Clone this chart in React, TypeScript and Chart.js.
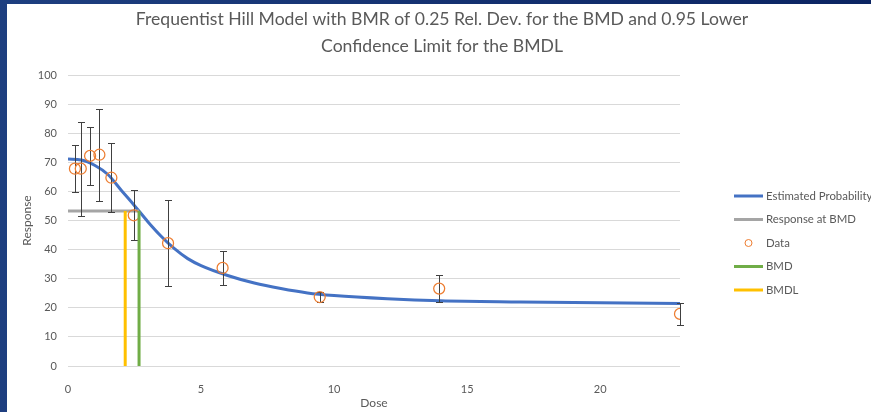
import React, { useEffect, useRef } from "react";
import { Chart, registerables } from "chart.js";

Chart.register(...registerables);

// ---- chart text ----
const titleLines = [
  "Frequentist Hill Model with BMR of 0.25 Rel. Dev. for the BMD and 0.95 Lower",
  "Confidence Limit for the BMDL",
];
const xAxisTitle = "Dose";
const yAxisTitle = "Response";
const seriesNames = ["Estimated Probability", "Response at BMD", "Data", "BMD", "BMDL"];

// ---- observed data (dose groups, mean response, error half-width) ----
const doses = [0.26, 0.48, 0.83, 1.18, 1.63, 2.47, 3.76, 5.81, 9.46, 13.95, 23];
const meanResponse = [67.8, 67.8, 72.2, 72.6, 64.7, 51.8, 42.2, 33.7, 23.7, 26.6, 17.9];
const errorHalfWidth = [8.0, 16.2, 10.0, 15.8, 11.9, 8.6, 14.7, 5.7, 1.6, 4.7, 3.7];

// ---- fitted Hill curve ----
const curveDoses = [0, 0.5, 1, 1.5, 2, 2.5, 3, 3.5, 4, 4.5, 5, 6, 7, 8, 9, 10, 12, 14, 17, 20, 23];
const curveResponse = [71.1, 70.8, 69.0, 65.8, 60.4, 55.1, 49.6, 44.6, 40.3, 36.9, 34.5, 31.1, 28.5, 26.6, 25.1, 24.2, 23.1, 22.4, 22.0, 21.7, 21.5];

// ---- benchmark values ----
const bmd = 2.67;
const bmdl = 2.15;
const bmdResponse = 53.3;

// ---- axes ----
const xMax = 23;
const xTickValues = [0, 5, 10, 15, 20];
const yTickValues = [0, 10, 20, 30, 40, 50, 60, 70, 80, 90, 100];

const FONT = "Lato, 'Open Sans', sans-serif";
const TEXT = "#595959";
const COLORS = {
  curve: "#4472C4",
  bmdLevel: "#A5A5A5",
  data: "#ED7D31",
  bmd: "#70AD47",
  bmdl: "#FFC000",
  errorBar: "#404040",
  grid: "#D9D9D9",
};

// error bars for the Data series, drawn just before its markers
const errorBarsPlugin = {
  id: "errorBars",
  beforeDatasetDraw(chart: any, args: any) {
    if (args.index !== 2) return;
    const { ctx, scales } = chart;
    const x = scales.x;
    const y = scales.y;
    ctx.save();
    ctx.strokeStyle = COLORS.errorBar;
    ctx.lineWidth = 1;
    doses.forEach((d, i) => {
      const px = Math.round(x.getPixelForValue(d)) + 0.5;
      const top = Math.round(y.getPixelForValue(meanResponse[i] + errorHalfWidth[i])) + 0.5;
      const bot = Math.round(y.getPixelForValue(meanResponse[i] - errorHalfWidth[i])) + 0.5;
      ctx.beginPath();
      ctx.moveTo(px, top);
      ctx.lineTo(px, bot);
      ctx.moveTo(px - 3.5, top);
      ctx.lineTo(px + 3.5, top);
      ctx.moveTo(px - 3.5, bot);
      ctx.lineTo(px + 3.5, bot);
      ctx.stroke();
    });
    ctx.restore();
  },
};

// legend listed to the right of the plot
const sideLegendPlugin = {
  id: "sideLegend",
  afterDraw(chart: any) {
    const { ctx, chartArea } = chart;
    const x0 = chartArea.right + 54;
    const y0 = chartArea.top + 121;
    const step = 23.5;
    ctx.save();
    ctx.font = `11.4px ${FONT}`;
    ctx.textBaseline = "middle";
    ctx.textAlign = "left";
    chart.data.datasets.forEach((ds: any, i: number) => {
      const cy = y0 + i * step;
      if (ds.showLine === false) {
        ctx.beginPath();
        ctx.arc(x0 + 14.5, cy, 3.5, 0, Math.PI * 2);
        ctx.strokeStyle = ds.borderColor;
        ctx.lineWidth = 1;
        ctx.stroke();
      } else {
        ctx.beginPath();
        ctx.moveTo(x0, cy);
        ctx.lineTo(x0 + 29, cy);
        ctx.strokeStyle = ds.borderColor;
        ctx.lineWidth = 3;
        ctx.stroke();
      }
      ctx.fillStyle = TEXT;
      ctx.fillText(ds.label, x0 + 32, cy);
    });
    ctx.restore();
  },
};

export default function App() {
  const canvasRef = useRef<HTMLCanvasElement | null>(null);

  useEffect(() => {
    const canvas = canvasRef.current;
    if (!canvas) return;

    const chart = new Chart(canvas, {
      type: "line",
      data: {
        datasets: [
          {
            label: seriesNames[0],
            data: curveDoses.map((d, i) => ({ x: d, y: curveResponse[i] })),
            borderColor: COLORS.curve,
            borderWidth: 3,
            pointRadius: 0,
            cubicInterpolationMode: "monotone",
            order: 5,
          },
          {
            label: seriesNames[1],
            data: [
              { x: 0, y: bmdResponse },
              { x: bmd, y: bmdResponse },
            ],
            borderColor: COLORS.bmdLevel,
            borderWidth: 3,
            pointRadius: 0,
            order: 4,
          },
          {
            label: seriesNames[2],
            data: doses.map((d, i) => ({ x: d, y: meanResponse[i] })),
            showLine: false,
            borderColor: COLORS.data,
            backgroundColor: "rgba(0,0,0,0)",
            pointRadius: 5.5,
            pointBorderWidth: 1.25,
            order: 3,
          },
          {
            label: seriesNames[3],
            data: [
              { x: bmd, y: 0 },
              { x: bmd, y: bmdResponse },
            ],
            borderColor: COLORS.bmd,
            borderWidth: 3,
            pointRadius: 0,
            order: 2,
          },
          {
            label: seriesNames[4],
            data: [
              { x: bmdl, y: 0 },
              { x: bmdl, y: bmdResponse },
            ],
            borderColor: COLORS.bmdl,
            borderWidth: 3,
            pointRadius: 0,
            order: 1,
          },
        ],
      },
      options: {
        responsive: false,
        animation: false,
        events: [],
        layout: { padding: 0 },
        plugins: {
          legend: { display: false },
          tooltip: { enabled: false },
          title: {
            display: true,
            text: titleLines,
            color: TEXT,
            font: { family: FONT, size: 17.6, weight: "normal", lineHeight: 27 / 17.6 },
            padding: { top: 1.5, bottom: 15.5 },
          },
        },
        scales: {
          x: {
            type: "linear",
            min: 0,
            max: xMax,
            grid: { display: false },
            border: { display: false },
            afterBuildTicks: (s: any) => {
              s.ticks = xTickValues.map((v) => ({ value: v }));
            },
            afterFit: (s: any) => {
              s.height = 46;
            },
            ticks: {
              color: TEXT,
              font: { family: FONT, size: 11 },
              padding: 9,
              maxRotation: 0,
              autoSkip: false,
            },
            title: {
              display: true,
              text: xAxisTitle,
              color: TEXT,
              font: { family: FONT, size: 12 },
              padding: { top: 0, bottom: 2 },
            },
          },
          y: {
            type: "linear",
            min: 0,
            max: 100,
            afterBuildTicks: (s: any) => {
              s.ticks = yTickValues.map((v) => ({ value: v }));
            },
            afterFit: (s: any) => {
              s.width = 61;
            },
            grid: { color: COLORS.grid, drawTicks: false, lineWidth: 1 },
            border: { display: false },
            ticks: {
              color: TEXT,
              font: { family: FONT, size: 11 },
              padding: 11,
            },
            title: {
              display: true,
              text: yAxisTitle,
              color: TEXT,
              font: { family: FONT, size: 12 },
              padding: { top: 13, bottom: 0 },
            },
          },
          legendSpace: {
            type: "linear",
            position: "right",
            display: true,
            min: 0,
            max: 1,
            grid: { display: false },
            border: { display: false },
            ticks: { display: false },
            afterFit: (s: any) => {
              s.width = 197;
            },
          },
        },
      } as any,
      plugins: [errorBarsPlugin, sideLegendPlugin],
    });

    return () => chart.destroy();
  }, []);

  return (
    <div
      style={{
        position: "fixed",
        left: 0,
        top: 0,
        width: "100vw",
        height: "100vh",
        overflow: "hidden",
        background: "linear-gradient(to right, #1e3f80, #0b2462)",
      }}
    >
      <canvas
        ref={canvasRef}
        width={870}
        height={408}
        style={{ position: "absolute", left: 7, top: 4, background: "#ffffff" }}
      />
    </div>
  );
}
